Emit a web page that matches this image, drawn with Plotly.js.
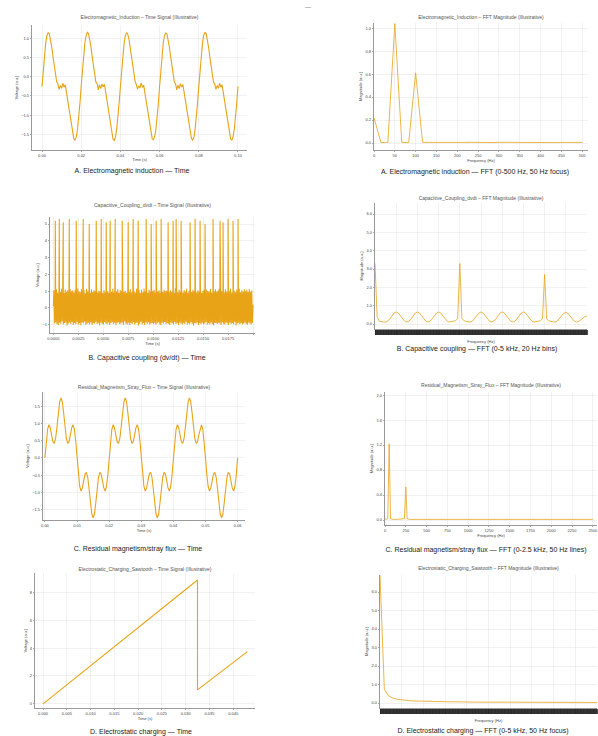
<!DOCTYPE html>
<html><head><meta charset="utf-8">
<script src="https://cdn.plot.ly/plotly-3.0.1.min.js"></script>
<style>
html,body{margin:0;padding:0;background:#fff}
body{width:598px;height:736px;position:relative;overflow:hidden;font-family:"Liberation Sans",Arial,sans-serif}
.cell{position:absolute}
.cap{position:absolute;width:300px;text-align:center;font-size:7px;line-height:8px;color:#222;white-space:nowrap}
.mark{position:absolute;left:305px;top:4px;font-size:6px;color:#555}
</style></head><body>
<div class="mark">—</div>
<script>
// ---------------- DATA ----------------
// A. Electromagnetic induction
const aTimeStep = 0.000625; // s between samples
const aTimeVoltage = [
-0.25,0.18,0.57,0.87,1.07,1.15,1.12,0.98,0.77,0.52,0.27,0.04,-0.13,-0.19,-0.33,-0.23,-0.30,-0.17,-0.27,-0.21,-0.42,-0.54,-0.77,-1.02,-1.27,-1.48,-1.62,-1.65,-1.57,-1.37,-1.07,-0.68,
-0.24,0.19,0.58,0.88,1.08,1.16,1.12,0.99,0.78,0.52,0.28,0.05,-0.14,-0.17,-0.34,-0.21,-0.31,-0.19,-0.26,-0.20,-0.41,-0.55,-0.78,-1.02,-1.28,-1.49,-1.63,-1.66,-1.57,-1.36,-1.06,-0.67,
-0.26,0.17,0.56,0.87,1.06,1.15,1.11,0.98,0.76,0.51,0.27,0.03,-0.12,-0.20,-0.32,-0.24,-0.29,-0.16,-0.28,-0.22,-0.43,-0.53,-0.77,-1.01,-1.27,-1.47,-1.62,-1.64,-1.56,-1.37,-1.08,-0.69,
-0.25,0.18,0.57,0.88,1.07,1.14,1.12,0.97,0.77,0.53,0.26,0.04,-0.13,-0.18,-0.34,-0.22,-0.31,-0.18,-0.27,-0.20,-0.42,-0.54,-0.76,-1.02,-1.26,-1.48,-1.61,-1.65,-1.58,-1.38,-1.07,-0.68,
-0.25,0.18,0.57,0.87,1.08,1.15,1.13,0.98,0.77,0.52,0.27,0.04,-0.13,-0.19,-0.33,-0.23,-0.30,-0.17,-0.27,-0.21,-0.42,-0.54,-0.77,-1.02,-1.27,-1.48,-1.62,-1.65,-1.57,-1.37,-1.07,-0.68,
-0.25];
const aFftBinHz = 50/3;
const aFftMag = [0.22,0.004,0.006,1.04,0.005,0.004,0.61,0.006,0.005,0.004,
 0.006,0.005,0.004,0.005,0.006,0.004,0.005,0.004,0.006,0.005,
 0.004,0.005,0.006,0.004,0.005,0.004,0.005,0.006,0.004,0.005,0.005];

// B. Capacitive coupling (dv/dt)
const bTimeStep = 0.0000627;
const bTimeBand = [
0.10,1.05,-0.92,0.98,-0.85,1.12,-0.97,0.91,-1.02,1.08,-0.88,0.95,-0.94,1.15,-0.81,1.01,-0.99,0.89,-0.90,1.10,
-0.86,0.97,-1.04,1.06,-0.93,0.92,-0.87,1.13,-0.96,0.99,-0.83,1.04,-1.01,0.94,-0.89,1.09,-0.95,0.90,-0.84,1.16,
-0.98,1.00,-0.91,0.93,-1.03,1.11,-0.86,0.96,-0.92,1.07,-0.80,0.88,-1.00,1.14,-0.94,0.98,-0.88,1.03,-0.97,0.91,
-0.85,1.12,-1.02,0.95,-0.90,1.06,-0.93,0.99,-0.82,1.18,-0.96,0.92,-0.89,1.02,-1.05,0.97,-0.87,1.10,-0.94,0.89,
-0.99,1.05,-0.84,0.94,-0.92,1.13,-0.97,1.00,-0.86,0.90,-1.01,1.08,-0.91,0.96,-0.83,1.15,-0.95,0.93,-0.88,1.04,
-1.03,0.98,-0.90,1.11,-0.85,0.91,-0.96,1.06,-0.92,0.99,-0.87,1.17,-1.00,0.95,-0.81,1.02,-0.94,0.90,-0.98,1.09,
-0.86,0.97,-1.02,1.12,-0.89,0.93,-0.95,1.05,-0.84,1.00,-0.99,0.92,-0.91,1.14,-0.88,0.96,-1.04,1.07,-0.93,0.89,
-0.82,1.10,-0.97,0.94,-0.90,1.16,-1.01,0.99,-0.87,1.03,-0.95,0.91,-0.85,1.08,-0.98,0.97,-0.92,1.13,-0.89,1.01,
-0.94,1.07,-0.88,0.92,-1.00,1.12,-0.91,0.98,-0.85,1.04,-0.97,0.90,-1.03,1.15,-0.87,0.95,-0.92,1.09,-0.83,0.99,
-0.96,1.02,-0.89,1.13,-0.94,0.93,-1.01,1.06,-0.86,0.97,-0.92,1.10,-0.98,0.91,-0.84,1.17,-0.95,1.00,-0.90,0.94,
-1.02,1.08,-0.87,0.96,-0.93,1.11,-0.99,0.92,-0.88,1.05,-0.96,0.98,-0.82,1.14,-1.00,0.90,-0.91,1.03,-0.97,1.07,
-0.85,0.95,-0.94,1.09,-1.04,0.99,-0.89,1.12,-0.93,0.94,-0.86,1.06,-1.01,0.97,-0.90,1.15,-0.95,0.91,-0.88,1.02,
-0.97,1.10,-0.92,0.93,-0.84,1.08,-1.00,1.01,-0.91,0.96,-0.98,1.13,-0.87,0.92,-0.95,1.05,-1.03,0.98,-0.89,1.11,
-0.90,0.97,-0.96,1.04,-0.88,1.16,-0.93,0.95,-1.02,1.00,-0.85,1.09,-0.94,0.93,-0.99,1.12,-0.87,0.96,-0.92,1.06,
-1.01,0.99,-0.86,1.14,-0.95,0.92,-0.90,1.07,-0.97,1.02,-0.83,0.94,-1.04,1.10,-0.91,0.98,-0.88,1.15,-0.96,0.93,
-0.89,1.05,-0.99,0.97,-0.92,1.11,-0.86,1.00,-0.94,1.08,-1.00,0.95,-0.87,1.13,-0.93,0.96,-0.98,1.04,-0.90,0.20];
const bSpikeTimes = [0.0002,0.0006,0.0010,0.0016,0.0023,0.0030,0.0036,0.0043,0.0048,0.0053,0.0057,0.0062,0.0069,0.0075,0.0080,0.0085,0.0093,
 0.0098,0.0103,0.0108,0.0115,0.0120,0.0123,0.0128,0.0137,0.0142,0.0147,0.0152,0.0160,0.0167,0.0170,0.0175,0.0180,0.0185];
const bSpikeHeights = [5.2,5.3,5.1,5.3,5.2,5.3,5.0,5.2,5.3,5.1,5.2,5.3,5.2,5.1,5.3,5.2,5.3,
 5.0,5.2,5.3,5.1,5.2,5.3,5.2,5.1,5.3,5.2,5.0,5.3,5.2,5.1,5.3,5.2,5.3];
const bFftBinHz = 50;
const bFftMag = [
3.30,0.40,0.15,0.12,0.11,0.11,0.16,0.28,0.45,0.60,0.66,0.60,0.45,0.28,0.16,0.11,0.16,0.28,0.45,0.60,
0.66,0.60,0.45,0.28,0.16,0.11,0.16,0.28,0.45,0.60,0.66,0.60,0.45,0.28,0.16,0.11,0.12,0.14,0.18,0.30,
3.30,0.30,0.18,0.14,0.12,0.11,0.16,0.28,0.45,0.60,0.66,0.60,0.45,0.28,0.16,0.11,0.16,0.28,0.45,0.60,
0.66,0.60,0.45,0.28,0.16,0.11,0.16,0.28,0.45,0.60,0.66,0.60,0.45,0.28,0.16,0.11,0.12,0.14,0.18,0.28,
2.70,0.28,0.18,0.14,0.12,0.11,0.16,0.28,0.45,0.58,0.64,0.58,0.45,0.28,0.16,0.11,0.14,0.22,0.32,0.40,
0.44];

// C. Residual magnetism / stray flux
const cTimeStep = 0.02/48;
const cTimeVoltage = [
0,0.49,0.83,0.96,0.87,0.66,0.47,0.42,0.57,0.90,1.30,1.62,1.74,1.62,1.30,0.90,0.57,0.42,0.47,0.66,0.87,0.96,0.83,0.49,
0,-0.49,-0.83,-0.96,-0.87,-0.66,-0.47,-0.42,-0.57,-0.90,-1.30,-1.62,-1.74,-1.62,-1.30,-0.90,-0.57,-0.42,-0.47,-0.66,-0.87,-0.96,-0.83,-0.49,
0,0.49,0.83,0.96,0.87,0.66,0.47,0.42,0.57,0.90,1.30,1.62,1.74,1.62,1.30,0.90,0.57,0.42,0.47,0.66,0.87,0.96,0.83,0.49,
0,-0.49,-0.83,-0.96,-0.87,-0.66,-0.47,-0.42,-0.57,-0.90,-1.30,-1.62,-1.74,-1.62,-1.30,-0.90,-0.57,-0.42,-0.47,-0.66,-0.87,-0.96,-0.83,-0.49,
0,0.49,0.83,0.96,0.87,0.66,0.47,0.42,0.57,0.90,1.30,1.62,1.74,1.62,1.30,0.90,0.57,0.42,0.47,0.66,0.87,0.96,0.83,0.49,
0,-0.49,-0.83,-0.96,-0.87,-0.66,-0.47,-0.42,-0.57,-0.90,-1.30,-1.62,-1.74,-1.62,-1.30,-0.90,-0.57,-0.42,-0.47,-0.66,-0.87,-0.96,-0.83,-0.49,
0];
const cFftFreq = [0,16.7,33.3,50,66.7,83.3,100,133.3,166.7,200,233.3,250,266.7,300,400,600,800,1000,1250,1500,1750,2000,2250,2500];
const cFftMag  = [0.02,0.01,0.02,1.22,0.02,0.01,0.01,0.01,0.01,0.01,0.02,0.53,0.02,0.01,0.01,0.01,0.01,0.01,0.01,0.01,0.01,0.01,0.01,0.01];

// D. Electrostatic charging (sawtooth)
const dTimeT = [0, 0.0325, 0.0325, 0.0430];
const dTimeV = [0.0, 8.9, 1.0, 3.75];
const dFftBinHz = 100;
const dFftMag = [6.90,0.75,0.38,0.26,0.20,0.16,0.14,0.12,0.11,0.10,
 0.09,0.09,0.08,0.08,0.07,0.07,0.07,0.06,0.06,0.06,
 0.06,0.05,0.05,0.05,0.05,0.05,0.05,0.04,0.04,0.04,
 0.04,0.04,0.04,0.04,0.04,0.04,0.03,0.03,0.03,0.03,
 0.03,0.03,0.03,0.03,0.03,0.03,0.03,0.03,0.03,0.03,0.03];

// titles & captions
const plotTitles = [
 'Electromagnetic_Induction – Time Signal (Illustrative)','Electromagnetic_Induction – FFT Magnitude (Illustrative)',
 'Capacitive_Coupling_dvdt – Time Signal (Illustrative)','Capacitive_Coupling_dvdt – FFT Magnitude (Illustrative)',
 'Residual_Magnetism_Stray_Flux – Time Signal (Illustrative)','Residual_Magnetism_Stray_Flux – FFT Magnitude (Illustrative)',
 'Electrostatic_Charging_Sawtooth – Time Signal (Illustrative)','Electrostatic_Charging_Sawtooth – FFT Magnitude (Illustrative)'];
const captions = [
 'A. Electromagnetic induction — Time','A. Electromagnetic induction — FFT (0-500 Hz, 50 Hz focus)',
 'B. Capacitive coupling (dv/dt) — Time','B. Capacitive coupling — FFT (0-5 kHz, 20 Hz bins)',
 'C. Residual magnetism/stray flux — Time','C. Residual magnetism/stray flux — FFT (0-2.5 kHz, 50 Hz lines)',
 'D. Electrostatic charging — Time','D. Electrostatic charging — FFT (0-5 kHz, 50 Hz focus)'];

// ---------------- helpers ----------------
function axisFromStep(n, step){ const o=[]; for(let i=0;i<n;i++) o.push(+(i*step).toFixed(8)); return o; }
function bSeries(){
  const pts = bTimeBand.map((v,i)=>[+(i*bTimeStep).toFixed(8), v, 0]);
  bSpikeTimes.forEach((t,i)=>pts.push([t, bSpikeHeights[i], 1]));
  pts.sort((p,q)=>p[0]-q[0] || p[2]-q[2]);
  return {x:pts.map(p=>p[0]), y:pts.map(p=>p[1])};
}
const bS = bSeries();

const series = [
 {x:axisFromStep(aTimeVoltage.length,aTimeStep), y:aTimeVoltage},
 {x:axisFromStep(aFftMag.length,aFftBinHz), y:aFftMag},
 {x:bS.x, y:bS.y},
 {x:axisFromStep(bFftMag.length,bFftBinHz), y:bFftMag},
 {x:axisFromStep(cTimeVoltage.length,cTimeStep), y:cTimeVoltage},
 {x:cFftFreq, y:cFftMag},
 {x:dTimeT, y:dTimeV},
 {x:axisFromStep(dFftMag.length,dFftBinHz), y:dFftMag}
];

// ---------------- page layout (px) ----------------
const cells = [
 {plot:[32,247,25,150], tY:17,  cap:[132,171], xr:[-0.0051,0.1046], yr:[-1.91,1.35], xd:0.02, yd:0.5, xf:'.2f', yf:'.1f', fft:false},
 {plot:[374,588,23,150], tY:17, cap:[475,172], xr:[0,514], yr:[-0.061,1.045], xd:50, yd:0.2, xf:'', yf:'.1f', fft:true},
 {plot:[50,255,217,333], tY:205, cap:[147,358], xr:[-0.00033,0.0202], yr:[-1.49,5.42], xd:0.0025, yd:1, xf:'.4f', yf:'.0f', fft:false},
 {plot:[375,587,203,329], tY:198, cap:[477,349], xr:[0,5000], yr:[-0.27,6.6], xd:500, yd:1, xf:'', yf:'.1f', fft:true, dense:true},
 {plot:[43,245,392,520], tY:387, cap:[138,549], xr:[-0.0006,0.0623], yr:[-1.8,1.91], xd:0.01, yd:0.5, xf:'.2f', yf:'.1f', fft:false},
 {plot:[385,597,392,525], tY:385, cap:[486,550], xr:[0,2550], yr:[-0.08,2.05], xd:250, yd:0.4, xf:'', yf:'.1f', fft:true},
 {plot:[35,255,573,708], tY:569, cap:[141,732], xr:[-0.0017,0.0446], yr:[-0.3,9.4], xd:0.005, yd:2, xf:'.3f', yf:'', fft:false},
 {plot:[380,597,575,708], tY:568, cap:[483,731], xr:[0,5000], yr:[-0.27,6.92], xd:500, yd:1, xf:'', yf:'.1f', fft:true, dense:true}
];

const lineColor = '#E8A317';
const gridColor = '#E4E4E4';

cells.forEach((c,i)=>{
  const [x0,x1,y0,y1] = c.plot;
  const ml=34, mr=3, mb=16;
  const top = c.tY - 6;
  const left = x0 - ml;
  const w = (x1-x0)+ml+mr;
  const h = (y1-top)+mb;
  const div = document.createElement('div');
  div.className='cell';
  div.style.left=left+'px'; div.style.top=top+'px';
  div.style.width=w+'px'; div.style.height=h+'px';
  document.body.appendChild(div);

  const cap = document.createElement('div');
  cap.className='cap';
  cap.textContent = captions[i];
  cap.style.left = (c.cap[0]-150)+'px';
  cap.style.top = (c.cap[1]-4)+'px';
  document.body.appendChild(cap);

  const trace = {x:series[i].x, y:series[i].y, type:'scatter', mode:'lines',
    line:{color:lineColor, width: c.fft ? 0.8 : 1.1}, hoverinfo:'skip'};
  const axBase = {showgrid:true, gridcolor:gridColor, gridwidth:0.5, zeroline:false,
    showline:true, linecolor:'#555', linewidth:0.6, ticks:'outside', ticklen:1.5, tickwidth:0.5, tickcolor:'#555',
    tickfont:{size:4, color:'#444'}, automargin:false};
  const xax = Object.assign({}, axBase, {range:c.xr, dtick:c.xd, tick0:0, tickformat:c.xf, tickangle:0,
      title:{text: c.fft ? 'Frequency (Hz)' : 'Time (s)', font:{size:4, color:'#444'}, standoff:1}});
  if (c.dense) {
    // dense dark tick band under the frequency axis
    xax.showticklabels = false;
    xax.ticklen = 5; xax.tickcolor = '#222'; xax.tickwidth = 0.8;
    xax.minor = {dtick:10, ticks:'outside', ticklen:5, tickwidth:0.8, tickcolor:'#2a2a2a', showgrid:false};
    xax.title.standoff = 6;
  }
  const layout = {
    width:w, height:h, margin:{l:ml, r:mr, t:y0-top, b:mb, pad:0},
    paper_bgcolor:'#fff', plot_bgcolor:'#fff', showlegend:false,
    font:{family:'"Liberation Sans", Arial, sans-serif', size:4, color:'#444'},
    title:{text:plotTitles[i], font:{size:5, color:'#555'}, x:0.5, xref:'paper', xanchor:'center',
      yref:'container', y:1-(c.tY-top)/h, yanchor:'middle', automargin:false},
    xaxis:xax,
    yaxis:Object.assign({}, axBase, {range:c.yr, dtick:c.yd, tick0:0, tickformat:c.yf,
      title:{text: c.fft ? 'Magnitude (a.u.)' : 'Voltage (a.u.)', font:{size:4, color:'#444'}, standoff:2}})
  };
  Plotly.newPlot(div, [trace], layout, {staticPlot:true, displayModeBar:false});
});
</script>
</body></html>
